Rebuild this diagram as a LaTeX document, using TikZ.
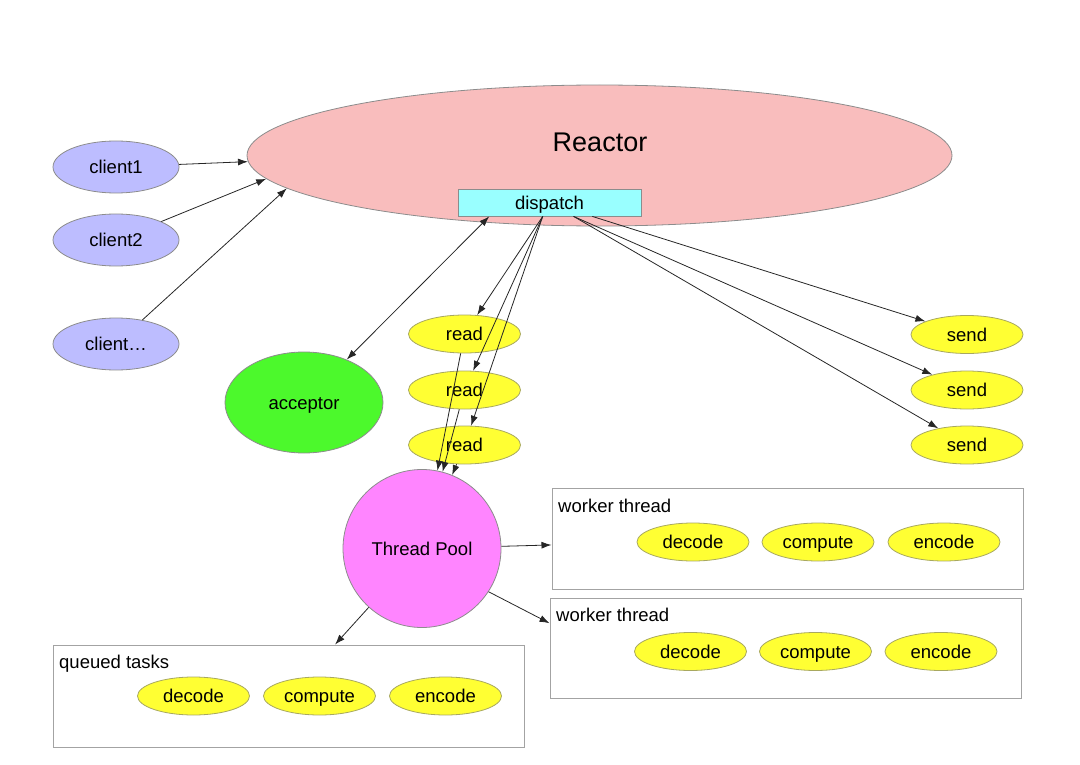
\documentclass[tikz,border=0pt]{standalone}
\usepackage{fontspec}
\setmainfont{Liberation Sans}
\usetikzlibrary{shapes.geometric,arrows.meta}

\definecolor{rosa}{HTML}{F9BDBD}
\definecolor{cian}{HTML}{99FFFF}
\definecolor{lila}{HTML}{BDBDFF}
\definecolor{verde}{HTML}{4CF92C}
\definecolor{amarillo}{HTML}{FFFF33}
\definecolor{magenta}{HTML}{FF85FF}
\definecolor{borde}{HTML}{8C8C8C}
\definecolor{bordeam}{HTML}{A8A860}

\tikzset{
  elipse/.style={ellipse, draw=borde, line width=0.8pt, inner sep=0pt, text height=15.5pt, text depth=2pt},
  cliente/.style={elipse, fill=lila, minimum width=126pt, minimum height=52pt},
  tarea/.style={elipse, draw=bordeam, fill=amarillo, minimum width=112pt, minimum height=38pt},
  caja/.style={draw=borde!80, line width=1pt, inner sep=0pt, minimum width=471pt},
  titulo/.style={anchor=base west, inner sep=0pt},
  flecha/.style={-{Latex[length=10pt,width=7pt]}, line width=0.8pt, draw=black!85},
}

\begin{document}
\begin{tikzpicture}[x=1pt, y=-1pt, font=\fontsize{18.5}{22}\selectfont]
  \useasboundingbox (0,0) rectangle (1080,765);

  % Reactor y dispatch
  \node[elipse, fill=rosa, minimum width=705pt, minimum height=141pt] (reactor) at (599.5,155.5) {};
  \node[anchor=base, inner sep=0pt, font=\fontsize{27}{30}\selectfont] (reactortxt) at (600,152) {Reactor};
  \node[draw=borde, fill=cian, line width=0.8pt, inner sep=0pt, text height=15.5pt, text depth=2pt,
        minimum width=183pt, minimum height=27pt] (dispatch) at (549.5,202.5) {dispatch};

  % Clientes
  \node[cliente] (client1) at (116,167) {client1};
  \node[cliente] (client2) at (116,240) {client2};
  \node[cliente] (clientn) at (116,344) {client\dots};

  % Acceptor y thread pool
  \node[elipse, fill=verde, minimum width=158pt, minimum height=101pt] (acceptor) at (304,402.5) {acceptor};
  \node[circle, draw=borde, line width=0.8pt, fill=magenta, minimum size=158pt, inner sep=0pt,
        text height=15.5pt, text depth=2pt] (pool) at (422,548.5) {Thread Pool};

  % read / send
  \node[tarea] (read1) at (464.5,334) {read};
  \node[tarea] (read2) at (464.5,390) {read};
  \node[tarea] (read3) at (464.5,445) {read};
  \node[tarea] (send1) at (967,334.5) {send};
  \node[tarea] (send2) at (967,390) {send};
  \node[tarea] (send3) at (967,445) {send};

  % Cajas de trabajo
  \node[caja, minimum height=101pt] (w1) at (787.5,538.5) {};
  \node[titulo] (w1txt) at (558,512) {worker thread};
  \node[tarea] (w1dec) at (693,542) {decode};
  \node[tarea] (w1com) at (818,542) {compute};
  \node[tarea] (w1enc) at (944,542) {encode};

  \node[caja, minimum height=100pt] (w2) at (785.5,648) {};
  \node[titulo] (w2txt) at (556,621) {worker thread};
  \node[tarea] (w2dec) at (690.5,651.5) {decode};
  \node[tarea] (w2com) at (815.5,651.5) {compute};
  \node[tarea] (w2enc) at (941,651.5) {encode};

  \node[caja, minimum height=102pt] (queued) at (288.5,696) {};
  \node[titulo] (queuedtxt) at (59,668) {queued tasks};
  \node[tarea] (qdec) at (193.5,696) {decode};
  \node[tarea] (qcom) at (319.5,696) {compute};
  \node[tarea] (qenc) at (445.5,696) {encode};

  % Flechas
  \draw[flecha] (client1) -- (reactor.181);
  \draw[flecha] (client2) -- (reactor.184);
  \draw[flecha] (clientn) -- (reactor.186);
  \draw[flecha, {Latex[length=10pt,width=7pt]}-{Latex[length=10pt,width=7pt]}] (dispatch.193) -- (acceptor);
  \draw[flecha] (dispatch.244) -- (read1);
  \draw[flecha] (dispatch.244) -- (read2);
  \draw[flecha] (dispatch.244) -- (read3);
  \draw[flecha] (dispatch.342) -- (send1);
  \draw[flecha] (dispatch.330) -- (send2);
  \draw[flecha] (dispatch.330) -- (send3);
  \draw[flecha] (read1) -- (pool);
  \draw[flecha] (read2) -- (pool);
  \draw[flecha] (read3) -- (pool);
  \draw[flecha] (pool) -- (w1);
  \draw[flecha] (pool.-33) -- (w2.174);
  \draw[flecha] (pool) -- (queued);
\end{tikzpicture}
\end{document}
